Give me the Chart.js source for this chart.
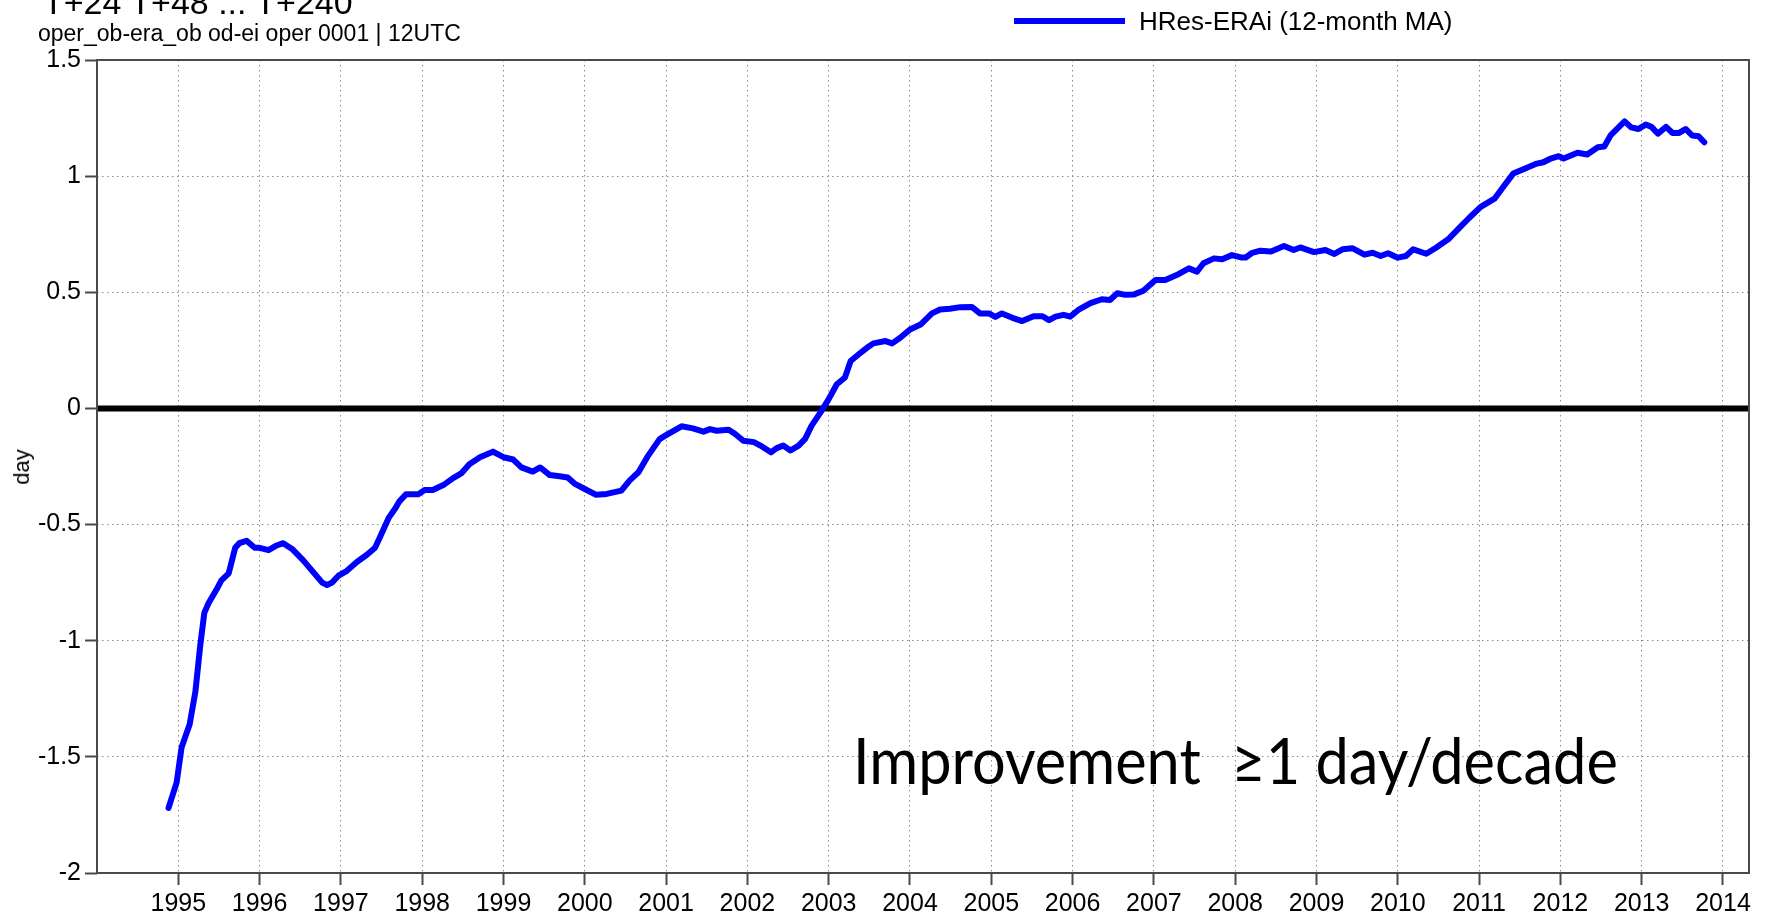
<!DOCTYPE html>
<html>
<head>
<meta charset="utf-8">
<title>HRes-ERAi</title>
<script src="https://cdn.jsdelivr.net/npm/chart.js@4.4.1/dist/chart.umd.min.js"></script>
<style>
  html, body { margin: 0; padding: 0; background: #fff; }
  #wrap { position: relative; width: 1766px; height: 913px; overflow: hidden;
          font-family: "Liberation Sans", Arial, sans-serif; color: #000; }
  #chart { position: absolute; left: 0; top: 0; }
  .txt { position: absolute; white-space: pre; line-height: 1; }
  #title    { left: 43px;   top: -15px; font-size: 34px; }
  #subtitle { left: 38px;   top: 22px;  font-size: 23px; }
  #legBar   { position: absolute; left: 1014px; top: 18px; width: 111px; height: 6px; background: #0000ff; }
  #legText  { left: 1139px; top: 8px;   font-size: 26px; }
  #yTitle   { left: 22px; top: 467px; font-size: 22px; transform: translate(-50%, -50%) rotate(-90deg); }
  #note     { left: 853px; top: 728px; font-size: 64px; font-family: Lato, "Open Sans", sans-serif;
              transform: scaleX(0.93); transform-origin: 0 0; }
</style>
</head>
<body>
<div id="wrap">
  <canvas id="chart" width="1766" height="913"></canvas>
  <div class="txt" id="title">T+24 T+48 ... T+240</div>
  <div class="txt" id="subtitle">oper_ob-era_ob od-ei oper 0001 | 12UTC</div>
  <div id="legBar"></div>
  <div class="txt" id="legText">HRes-ERAi (12-month MA)</div>
  <div class="txt" id="yTitle">day</div>
  <div class="txt" id="note">Improvement  ≥1 day/decade</div>
</div>
<script>
// ── DATA ────────────────────────────────────────────────────────────────────
const years = [
  1994.88, 1994.98, 1995.04, 1995.14, 1995.21, 1995.27, 1995.32, 1995.37, 1995.47, 1995.53,
  1995.62, 1995.70, 1995.75, 1995.84, 1995.94, 1996.00, 1996.11, 1996.21, 1996.29, 1996.40,
  1996.54, 1996.66, 1996.77, 1996.83, 1996.89, 1996.97, 1997.07, 1997.20, 1997.32, 1997.42,
  1997.48, 1997.59, 1997.67, 1997.72, 1997.80, 1997.95, 1998.03, 1998.13, 1998.26, 1998.38,
  1998.48, 1998.58, 1998.71, 1998.87, 1999.00, 1999.12, 1999.22, 1999.36, 1999.45, 1999.57,
  1999.69, 1999.79, 1999.88, 2000.00, 2000.14, 2000.27, 2000.45, 2000.55, 2000.66, 2000.78,
  2000.92, 2001.00, 2001.19, 2001.33, 2001.46, 2001.54, 2001.62, 2001.77, 2001.85, 2001.95,
  2002.08, 2002.16, 2002.29, 2002.36, 2002.44, 2002.53, 2002.63, 2002.71, 2002.79, 2002.90,
  2003.00, 2003.10, 2003.20, 2003.27, 2003.37, 2003.47, 2003.55, 2003.70, 2003.78, 2003.88,
  2004.00, 2004.13, 2004.27, 2004.37, 2004.49, 2004.62, 2004.76, 2004.86, 2004.97, 2005.05,
  2005.13, 2005.26, 2005.38, 2005.52, 2005.63, 2005.71, 2005.79, 2005.89, 2005.97, 2006.07,
  2006.22, 2006.36, 2006.46, 2006.55, 2006.65, 2006.75, 2006.87, 2007.02, 2007.14, 2007.28,
  2007.43, 2007.53, 2007.61, 2007.74, 2007.84, 2007.96, 2008.07, 2008.13, 2008.21, 2008.31,
  2008.44, 2008.60, 2008.72, 2008.80, 2008.97, 2009.11, 2009.22, 2009.32, 2009.44, 2009.59,
  2009.69, 2009.79, 2009.88, 2010.00, 2010.10, 2010.19, 2010.35, 2010.47, 2010.62, 2010.76,
  2010.88, 2011.02, 2011.19, 2011.31, 2011.42, 2011.56, 2011.71, 2011.79, 2011.87, 2011.98,
  2012.04, 2012.21, 2012.33, 2012.46, 2012.54, 2012.62, 2012.70, 2012.79, 2012.87, 2012.96,
  2013.05, 2013.12, 2013.20, 2013.30, 2013.38, 2013.46, 2013.54, 2013.62, 2013.70, 2013.77,
];
const hresEraI = [
  -1.72, -1.61, -1.46, -1.36, -1.22, -1.02, -0.88, -0.84, -0.78, -0.74,
  -0.71, -0.60, -0.58, -0.57, -0.60, -0.60, -0.61, -0.59, -0.58, -0.605,
  -0.655, -0.705, -0.75, -0.76, -0.75, -0.72, -0.70, -0.66, -0.63, -0.60,
  -0.555, -0.47, -0.43, -0.40, -0.37, -0.37, -0.351, -0.351, -0.33, -0.30,
  -0.28, -0.24, -0.21, -0.186, -0.21, -0.22, -0.254, -0.272, -0.254, -0.287,
  -0.292, -0.297, -0.325, -0.347, -0.372, -0.368, -0.354, -0.311, -0.275, -0.203,
  -0.132, -0.115, -0.077, -0.086, -0.100, -0.089, -0.096, -0.092, -0.110, -0.139,
  -0.145, -0.160, -0.189, -0.171, -0.160, -0.181, -0.160, -0.131, -0.074, -0.017,
  0.040, 0.104, 0.133, 0.204, 0.233, 0.261, 0.280, 0.290, 0.280, 0.304,
  0.340, 0.361, 0.409, 0.426, 0.429, 0.436, 0.437, 0.409, 0.409, 0.394,
  0.409, 0.390, 0.376, 0.397, 0.397, 0.380, 0.395, 0.403, 0.395, 0.424,
  0.453, 0.470, 0.467, 0.496, 0.489, 0.490, 0.507, 0.553, 0.553, 0.574,
  0.603, 0.589, 0.625, 0.646, 0.642, 0.660, 0.650, 0.650, 0.670, 0.679,
  0.676, 0.699, 0.682, 0.693, 0.673, 0.682, 0.665, 0.685, 0.690, 0.662,
  0.670, 0.656, 0.668, 0.649, 0.656, 0.685, 0.666, 0.692, 0.728, 0.778,
  0.821, 0.868, 0.903, 0.960, 1.011, 1.032, 1.054, 1.060, 1.074, 1.086,
  1.076, 1.101, 1.093, 1.124, 1.128, 1.177, 1.205, 1.236, 1.210, 1.203,
  1.222, 1.212, 1.183, 1.212, 1.186, 1.186, 1.203, 1.175, 1.172, 1.146,
];
const yearTicks = [1995, 1996, 1997, 1998, 1999, 2000, 2001, 2002, 2003, 2004,
                   2005, 2006, 2007, 2008, 2009, 2010, 2011, 2012, 2013, 2014];
const dayTicks = [-2, -1.5, -1, -0.5, 0, 0.5, 1, 1.5];

// ── STYLE ────────────────────────────────────────────────────────────────────
const FONT = '"Liberation Sans", Arial, sans-serif';
const GRID = '#8c8c8c';
const AXIS = '#4a4a4a';

// zero line under the curve, plot frame on top
const framePlugin = {
  id: 'frame',
  beforeDatasetsDraw(chart) {
    const { ctx, chartArea: a, scales: { y } } = chart;
    const y0 = y.getPixelForValue(0);
    ctx.save();
    ctx.strokeStyle = '#000';
    ctx.lineWidth = 6;
    ctx.beginPath();
    ctx.moveTo(a.left, y0);
    ctx.lineTo(a.right, y0);
    ctx.stroke();
    ctx.restore();
  },
  afterDatasetsDraw(chart) {
    const { ctx, chartArea: a } = chart;
    ctx.save();
    ctx.strokeStyle = AXIS;
    ctx.lineWidth = 2;
    ctx.strokeRect(a.left, a.top, a.right - a.left, a.bottom - a.top);
    ctx.restore();
  },
};

new Chart(document.getElementById('chart'), {
  type: 'line',
  data: {
    datasets: [{
      label: 'HRes-ERAi (12-month MA)',
      data: years.map((x, i) => ({ x, y: hresEraI[i] })),
      borderColor: '#0000ff',
      borderWidth: 6,
      borderJoinStyle: 'round',
      borderCapStyle: 'round',
      pointRadius: 0,
      tension: 0,
      fill: false,
    }],
  },
  options: {
    responsive: false,
    animation: false,
    devicePixelRatio: 1,
    layout: { padding: { top: 60, right: 17, left: 0, bottom: 0 } },
    plugins: { legend: { display: false }, tooltip: { enabled: false } },
    scales: {
      x: {
        type: 'linear',
        min: 1994,
        max: 2014.32,
        afterBuildTicks: s => { s.ticks = yearTicks.map(v => ({ value: v })); },
        afterFit: s => { s.height = 40; },
        grid: { color: GRID, lineWidth: 1, tickLength: 12, tickColor: AXIS, tickWidth: 2, tickBorderDash: [] },
        border: { display: false, dash: [1.5, 3.5] },
        ticks: { color: '#000', font: { size: 25, family: FONT }, padding: 4,
                 autoSkip: false, maxRotation: 0, callback: v => String(v) },
      },
      y: {
        min: -2,
        max: 1.5,
        afterBuildTicks: s => { s.ticks = dayTicks.map(v => ({ value: v })); },
        afterFit: s => { s.width = 97; },
        grid: { color: GRID, lineWidth: 1, tickLength: 12, tickColor: AXIS, tickWidth: 2, tickBorderDash: [] },
        border: { display: false, dash: [1.5, 3.5] },
        ticks: { color: '#000', font: { size: 25, family: FONT }, padding: 4,
                 autoSkip: false, callback: v => String(v) },
      },
    },
  },
  plugins: [framePlugin],
});
</script>
</body>
</html>
